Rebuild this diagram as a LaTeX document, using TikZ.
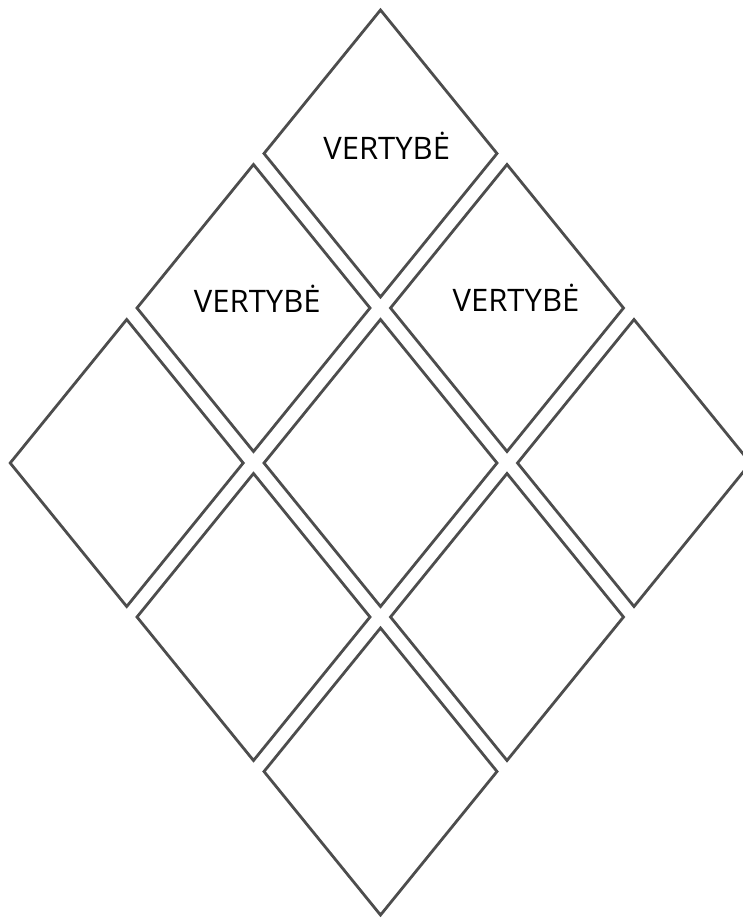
\documentclass[tikz,border=0pt]{standalone}
\usepackage{fontspec}
\setmainfont{Open Sans}
\usetikzlibrary{shapes.geometric}
\definecolor{edgegray}{HTML}{4D4D4D}
\tikzset{
  tile/.style={diamond, draw=edgegray, line width=2.8pt, minimum width=233pt, minimum height=287pt, inner sep=0pt, outer sep=0pt},
  valuetext/.style={anchor=base, inner sep=0pt, font=\fontsize{31}{36}\selectfont, text=black}
}
\begin{document}
\begin{tikzpicture}[x=1pt,y=-1pt]
\useasboundingbox (0,0) rectangle (742,918);
\node[tile] (d1) at (380.5,153.5) {};
\node[tile] (d2) at (253.5,308) {};
\node[tile] (d3) at (507,308) {};
\node[tile] (d4) at (126.7,463) {};
\node[tile] (d5) at (380.5,463) {};
\node[tile] (d6) at (634,463) {};
\node[tile] (d7) at (253.5,617) {};
\node[tile] (d8) at (507,617) {};
\node[tile] (d9) at (380.5,771.5) {};
\node[valuetext] (t1) at (386.7,159.3) {VERTYBĖ};
\node[valuetext] (t2) at (257.3,312.7) {VERTYBĖ};
\node[valuetext] (t3) at (516,311) {VERTYBĖ};
\end{tikzpicture}
\end{document}
